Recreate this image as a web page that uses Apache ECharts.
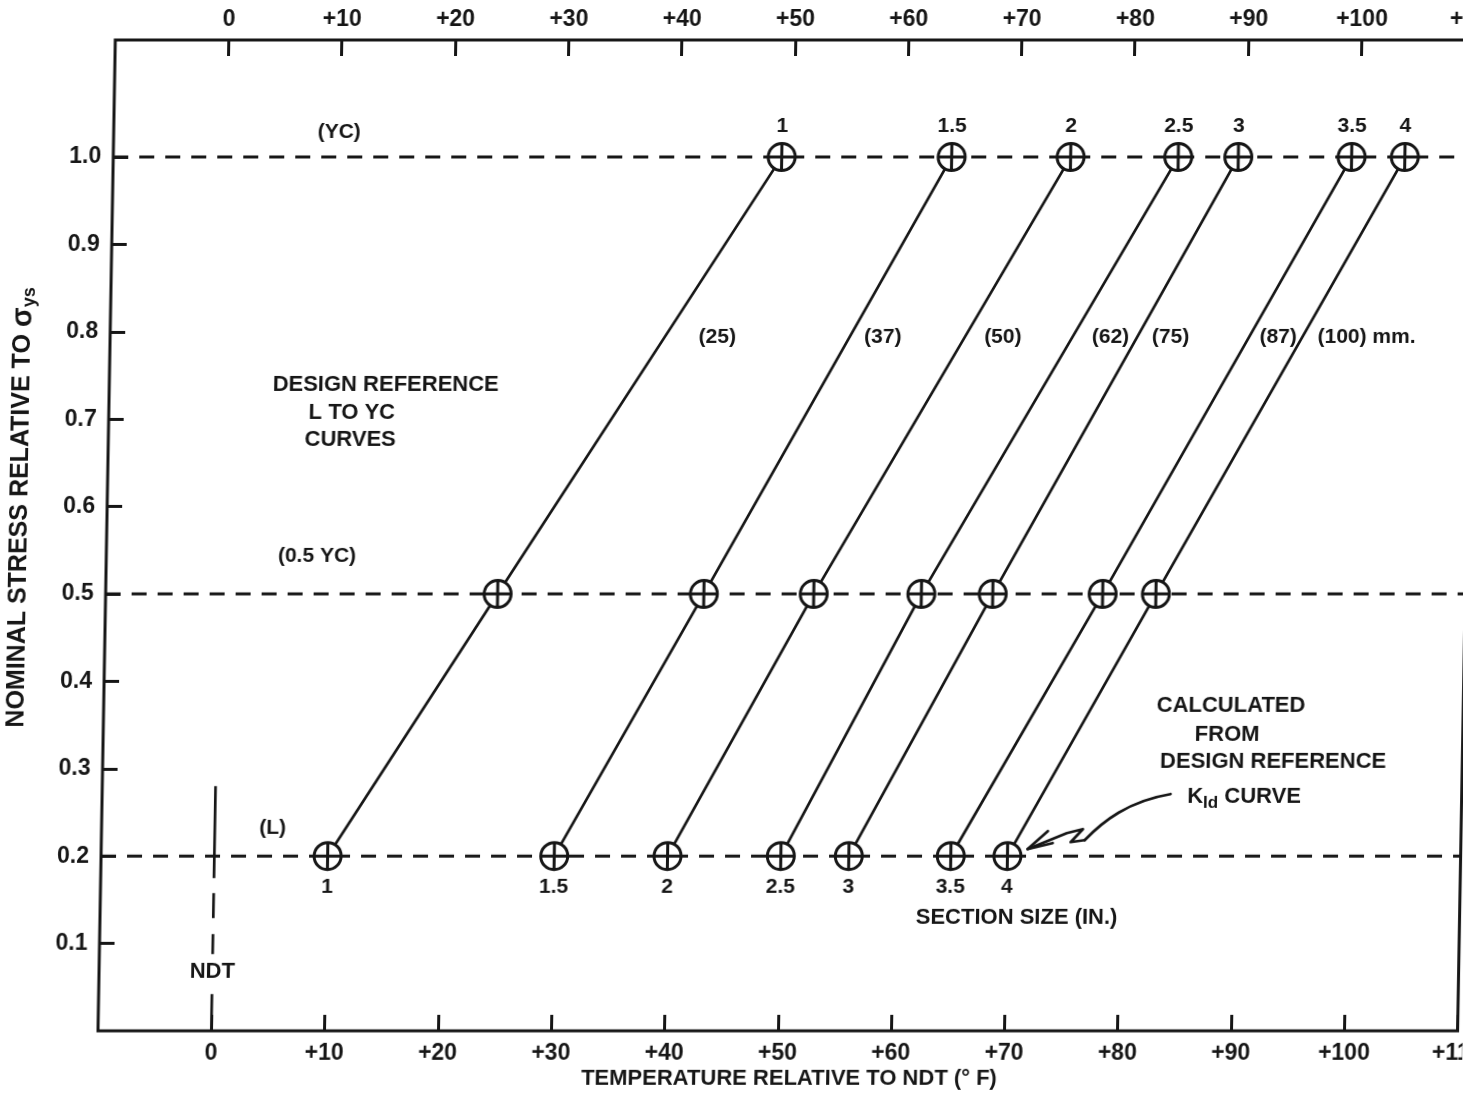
<!DOCTYPE html>
<html>
<head>
<meta charset="utf-8">
<script src="https://cdn.jsdelivr.net/npm/echarts@6/dist/echarts.min.js"></script>
<style>
  html, body { margin: 0; padding: 0; background: #fff; overflow: hidden; width: 1463px; height: 1093px; }
  /* the sheet is drawn with a slight shear, like the hand-drafted original */
  #chart { position: absolute; left: -40px; top: 0; width: 1503px; height: 1093px;
           transform: skewX(-1deg); transform-origin: 0 1031px; }
</style>
</head>
<body>
<div id="chart"></div>
<script>
// Section sizes (in.) and their metric equivalents
const sizes = ['1', '1.5', '2', '2.5', '3', '3.5', '4'];
const sizesMm = ['(25)', '(37)', '(50)', '(62)', '(75)', '(87)', '(100) mm.'];

// Nominal stress levels relative to yield: L, 0.5 YC, YC
const levels = [0.2, 0.5, 1.0];
const levelNames = ['(L)', '(0.5 YC)', '(YC)'];

// Temperature above NDT (°F) at which each section size reaches each level
const tempL    = [10, 30, 40, 50, 56, 65, 70];
const tempHalf = [24.6, 42.8, 52.5, 62, 68.3, 78, 82.7];
const tempYC   = [49, 64, 74.5, 84, 89.3, 99.3, 104];

// Axis ticks
const tempTicks = [0, 10, 20, 30, 40, 50, 60, 70, 80, 90, 100, 110];
const stressTicks = [0.1, 0.2, 0.3, 0.4, 0.5, 0.6, 0.7, 0.8, 0.9, 1.0];
const tempRange = [-10, 110];
const stressRange = [0, 1.134];

// NDT reference line (temperature, stress)
const ndtLine = [[0, 0.28], [0, 0]];

// ---- text placement, in axis units ----
const levelNoteAt = [[5.1, 0.232], [8.6, 0.543], [9.9, 1.029]];
const mmNoteStress = 0.794;
const mmNoteTemp = [43.6, 58.2, 68.8, 78.3, 83.6, 93.1, 100.9];
const notes = [
  { text: 'DESIGN REFERENCE', at: [14.4, 0.739] },
  { text: 'L TO YC', at: [11.45, 0.707] },
  { text: 'CURVES', at: [11.35, 0.676] },
  { text: 'NDT', at: [0, 0.068] },
  { text: 'SECTION SIZE (IN.)', at: [70.9, 0.129] },
  { text: 'CALCULATED', at: [89.5, 0.372] },
  { text: 'FROM', at: [89.2, 0.339] },
  { text: 'DESIGN REFERENCE', at: [93.3, 0.308] },
  { text: '{k|K}{s|Id}{t| CURVE}', at: [90.8, 0.268], rich: true }
];

const FONT = '"Liberation Sans", Arial, sans-serif';
const INK = '#161616';
// circle with a cross: the plotted-point symbol
const CROSS_CIRCLE = 'path://M0,-12A12,12,0,1,1,0,12A12,12,0,1,1,0,-12ZM-12,0L12,0M0,-12L0,12';

const labelFont = { fontFamily: FONT, fontWeight: 'bold', fontSize: 21, color: INK };
const fmtTemp = v => (v === 0 ? '0' : '+' + v);

const chart = echarts.init(document.getElementById('chart'), null, { renderer: 'canvas' });

const sectionSeries = sizes.map((s, i) => ({
  name: s,
  type: 'line',
  z: 5,
  animation: false,
  symbol: CROSS_CIRCLE,
  symbolSize: 27,
  showAllSymbol: true,
  lineStyle: { color: INK, width: 2.7 },
  itemStyle: { color: '#fff', borderColor: INK, borderWidth: 3 },
  emphasis: { disabled: true },
  silent: true,
  data: [
    { value: [tempL[i], levels[0]], label: Object.assign({ show: true, position: 'bottom', distance: 5, formatter: s }, labelFont) },
    { value: [tempHalf[i], levels[1]] },
    { value: [tempYC[i], levels[2]], label: Object.assign({ show: true, position: 'top', distance: 5, formatter: s }, labelFont) }
  ]
}));

const levelSeries = levels.map(v => ({
  type: 'line',
  z: 1,
  silent: true,
  symbol: 'none',
  animation: false,
  lineStyle: { color: INK, width: 3, type: [15, 11] },
  data: [[tempRange[0], v], [tempRange[1], v]]
}));

const ndtSeries = {
  type: 'line',
  z: 1,
  silent: true,
  symbol: 'none',
  animation: false,
  lineStyle: { color: INK, width: 2.7, type: [92, 15, 25, 16, 20, 40, 40] },
  data: ndtLine
};

function tempAxis(pos, margin) {
  return {
    type: 'value',
    position: pos,
    min: tempRange[0],
    max: tempRange[1],
    interval: 10,
    axisLine: { show: false, onZero: false },
    axisTick: { show: true, inside: true, length: 16, customValues: tempTicks, lineStyle: { color: INK, width: 3 } },
    axisLabel: Object.assign({ show: true, margin: margin, customValues: tempTicks, formatter: fmtTemp }, labelFont, { fontSize: 23 }),
    splitLine: { show: false }
  };
}

const xBottom = Object.assign(tempAxis('bottom', 11), {
  name: 'TEMPERATURE RELATIVE TO NDT (° F)',
  nameLocation: 'middle',
  nameGap: 37,
  nameMoveOverlap: false,
  nameTextStyle: { fontFamily: FONT, fontWeight: 'bold', fontSize: 22, color: INK, padding: [0, 0, 0, 24] }
});
const xTop = tempAxis('top', 9);

const option = {
  animation: false,
  backgroundColor: '#fff',
  grid: {
    left: 138, right: 5.4, top: 40, bottom: 62,
    show: true, borderColor: INK, borderWidth: 3, backgroundColor: 'transparent',
    containLabel: false, outerBoundsMode: 'none'
  },
  xAxis: [xBottom, xTop],
  yAxis: [{
    type: 'value',
    position: 'left',
    min: stressRange[0],
    max: stressRange[1],
    interval: 0.1,
    axisLine: { show: false, onZero: false },
    axisTick: { show: true, inside: true, length: 15, customValues: stressTicks, lineStyle: { color: INK, width: 3 } },
    axisLabel: Object.assign({ show: true, margin: 12, customValues: stressTicks, formatter: v => v.toFixed(1) }, labelFont, { fontSize: 23 }),
    splitLine: { show: false },
    name: '{t|NOMINAL STRESS RELATIVE TO }{g|σ}{b|ys}',
    nameLocation: 'middle',
    nameRotate: 90,
    nameGap: 72,
    nameMoveOverlap: false,
    nameTextStyle: {
      color: INK, fontFamily: FONT, fontWeight: 'bold', fontSize: 25,
      padding: [0, 0, 0, 56],
      rich: {
        t: { fontFamily: FONT, fontWeight: 'bold', fontSize: 25, color: INK, lineHeight: 30 },
        g: { fontFamily: FONT, fontWeight: 'bold', fontSize: 29, color: INK, lineHeight: 30 },
        b: { fontFamily: FONT, fontWeight: 'bold', fontSize: 18, color: INK, lineHeight: 16, verticalAlign: 'bottom' }
      }
    }
  }],
  series: [...levelSeries, ndtSeries, ...sectionSeries]
};

chart.setOption(option);

// ---- annotations ----
const px = p => chart.convertToPixel({ xAxisIndex: 0, yAxisIndex: 0 }, p);

function textEl(str, p, size) {
  const q = px(p);
  return {
    type: 'text', x: q[0], y: q[1], silent: true, z: 10,
    style: {
      text: str, fill: INK, font: 'bold ' + size + 'px ' + FONT,
      align: 'center', verticalAlign: 'middle', textAlign: 'center', textVerticalAlign: 'middle'
    }
  };
}

const graphics = [];
levelNames.forEach((t, i) => graphics.push(textEl(t, levelNoteAt[i], 21)));
sizesMm.forEach((t, i) => graphics.push(textEl(t, [mmNoteTemp[i], mmNoteStress], 21)));
notes.forEach(n => {
  const el = textEl(n.text, n.at, 22);
  if (n.rich) {
    el.style.rich = {
      k: { fontFamily: FONT, fontWeight: 'bold', fontSize: 22, fill: INK, lineHeight: 30 },
      s: { fontFamily: FONT, fontWeight: 'bold', fontSize: 17, fill: INK, lineHeight: 16, verticalAlign: 'bottom' },
      t: { fontFamily: FONT, fontWeight: 'bold', fontSize: 22, fill: INK, lineHeight: 30 }
    };
  }
  graphics.push(el);
});

// squiggle arrow pointing at the 4 in. point on the L level
const m = px([tempL[6], levels[0]]);
const rel = pts => pts.map(p => [m[0] + p[0], m[1] + p[1]]);
const pen = { stroke: INK, lineWidth: 2.7, fill: null, lineCap: 'round', lineJoin: 'round' };
graphics.push({
  type: 'bezierCurve', silent: true, z: 10,
  shape: { x1: m[0] + 162, y1: m[1] - 62, cpx1: m[0] + 120, cpy1: m[1] - 55, cpx2: m[0] + 95, cpy2: m[1] - 35, x2: m[0] + 77, y2: m[1] - 16 },
  style: pen
});
graphics.push({ type: 'polyline', silent: true, z: 10, shape: { points: rel([[77, -16], [63, -14], [75, -27], [59, -23], [20, -7]]) }, style: pen });
graphics.push({ type: 'polyline', silent: true, z: 10, shape: { points: rel([[40, -25], [20, -7], [45, -13]]) }, style: pen });

chart.setOption({ graphic: graphics });
</script>
</body>
</html>
